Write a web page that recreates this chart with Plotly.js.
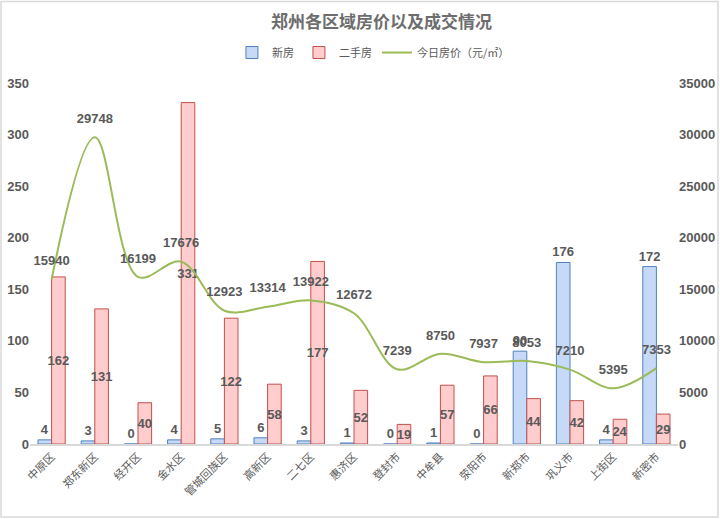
<!DOCTYPE html>
<html><head><meta charset="utf-8">
<script src="https://cdn.plot.ly/plotly-3.0.1.min.js"></script>
<style>html,body{margin:0;padding:0;background:#fff}#c{width:720px;height:519px}</style>
</head><body><div id="c"></div>
<script>
const districts = ['中原区','郑东新区','经开区','金水区','管城回族区','高新区','二七区','惠济区','登封市','中牟县','荥阳市','新郑市','巩义市','上街区','新密市'];
const newHomes = [4,3,0,4,5,6,3,1,0,1,0,90,176,4,172];
const resaleHomes = [162,131,40,331,122,58,177,52,19,57,66,44,42,24,29];
const todayPrice = [15940,29748,16199,17676,12923,13314,13922,12672,7239,8750,7937,8053,7210,5395,7353];
const leftTicks = [0,50,100,150,200,250,300,350];
const rightTicks = [0,5000,10000,15000,20000,25000,30000,35000];

const L = 30, T = 82.5, PW = 648, PH = 361.5;
const px = v => (v - L) / PW, py = v => (T + PH - v) / PH;

const lblFont = {family:'Liberation Sans Narrow, Arial Narrow, sans-serif', size:13, color:'#595959', weight:'bold'};
const data = [
 {type:'bar', name:'新房', x:districts, y:newHomes, text:newHomes.map(String), textposition:'outside', textfont:lblFont,
  constraintext:'none', textangle:0,
  marker:{color:'#c6d9f6', line:{color:'#4f81bd', width:1}}, cliponaxis:false},
 {type:'bar', name:'二手房', x:districts, y:resaleHomes, text:resaleHomes.map(String), textposition:'inside', insidetextanchor:'middle', textfont:lblFont,
  constraintext:'none', textangle:0,
  marker:{color:'#ffcdcd', line:{color:'#c0504d', width:1}}, cliponaxis:false},
 {type:'scatter', mode:'lines+markers+text', name:'今日房价（元/㎡）', x:districts, y:todayPrice, yaxis:'y2',
  text:todayPrice.map(String), textposition:'top center', textfont:lblFont,
  marker:{size:16, color:'rgba(0,0,0,0)'},
  line:{color:'#9bbb59', width:2, shape:'spline', smoothing:1}, cliponaxis:false}
];

const layout = {
 width:720, height:519, margin:{l:L, r:720-L-PW, t:T, b:519-T-PH},
 paper_bgcolor:'#fff', plot_bgcolor:'rgba(0,0,0,0)',
 title:{text:'郑州各区域房价以及成交情况', x:0.53, xanchor:'center', y:0.957, yanchor:'middle',
   font:{family:'Noto Sans CJK SC, sans-serif', size:17, color:'#6d6d6d', weight:'bold'}},
 legend:{orientation:'h', x:0.53, xanchor:'center', y:py(52), yanchor:'middle',
   font:{family:'Noto Sans CJK SC, sans-serif', size:11, color:'#595959'}, bgcolor:'rgba(0,0,0,0)'},
 barmode:'group', bargap:0.37, bargroupgap:0,
 xaxis:{range:[-0.5, districts.length-0.5], tickangle:-45, automargin:false, tickfont:{family:'Noto Sans CJK SC, sans-serif', size:11, color:'#595959'},
   showline:true, linecolor:'#d9d9d9', linewidth:2, showgrid:false, ticks:''},
 yaxis:{range:[0,350], automargin:false, tickvals:leftTicks, showgrid:false, zeroline:false, ticks:'',
   tickfont:lblFont},
 yaxis2:{range:[0,35000], automargin:false, tickvals:rightTicks, ticktext:rightTicks.map(String), overlaying:'y', side:'right', showgrid:false, zeroline:false, ticks:'',
   tickfont:lblFont},
 shapes:[{type:'rect', xref:'paper', yref:'paper', x0:px(1), x1:px(718), y0:py(517), y1:py(1), line:{color:'#d9d9d9', width:1.5}}],
 showlegend:true
};
Plotly.newPlot('c', data, layout, {displayModeBar:false, staticPlot:true});
</script></body></html>
